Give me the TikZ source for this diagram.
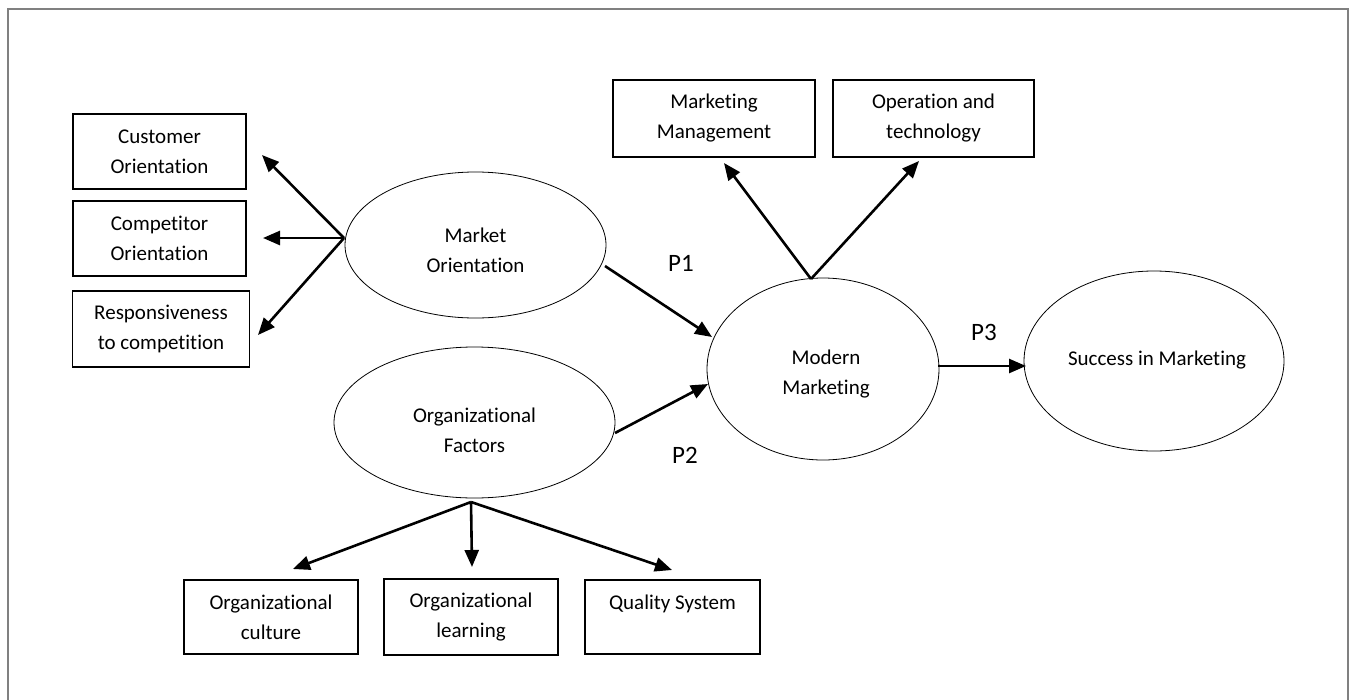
\documentclass[tikz,border=0pt]{standalone}
\usepackage{fontspec}
\setmainfont{Carlito}[Ligatures={NoCommon}]
\usetikzlibrary{arrows.meta,shapes.geometric}
\begin{document}
\begin{tikzpicture}[x=1pt,y=-1pt,
  txt/.style={font=\fontsize{21}{30}\selectfont, align=center, inner sep=0pt},
  plbl/.style={font=\fontsize{25}{30}\selectfont, inner sep=0pt},
  box/.style={draw, line width=1.2pt, rectangle, inner sep=0pt, align=center, font=\fontsize{21}{30}\selectfont},
  oval/.style={draw, line width=0.8pt, ellipse, inner sep=0pt},
  arr/.style={line width=2.6pt, -{Triangle[length=17pt,width=14pt]}},
  frame/.style={draw=black!50, line width=2pt}]
\useasboundingbox (0,0) rectangle (1355,699);
\path[frame] (8,720) -- (8,9) -- (1348,9) -- (1348,720);

% left boxes
\node[box, minimum width=173pt, minimum height=75pt] (cust) at (159.5,151.5) {Customer\\Orientation};
\node[box, minimum width=173pt, minimum height=75pt] (comp) at (159.5,238.5) {Competitor\\Orientation};
\node[box, minimum width=177pt, minimum height=76pt] (resp) at (161,329) {Responsiveness\\to competition};

% top boxes
\node[box, minimum width=202pt, minimum height=77pt] (mm) at (714,118.5) {Marketing\\Management};
\node[box, minimum width=201pt, minimum height=77pt] (ot) at (933.5,118.5) {Operation and\\technology};

% bottom boxes
\node[box, minimum width=174pt, minimum height=74pt] (oc) at (271,617) {Organizational\\culture};
\node[box, minimum width=174pt, minimum height=76pt] (ol) at (471,617) {Organizational\\learning};
\node[box, minimum width=175pt, minimum height=74pt] (qs) at (672.5,617) {Quality System\\\mbox{}};

% ellipses
\node[oval, minimum width=261pt, minimum height=146pt] (mo) at (475.5,245) {};
\node[txt] (moT) at (475.5,250) {Market\\Orientation};
\node[oval, minimum width=281pt, minimum height=151pt] (of) at (474.5,422.5) {};
\node[txt] (ofT) at (474.5,430) {Organizational\\Factors};
\node[oval, minimum width=232pt, minimum height=182pt] (mod) at (823,369) {};
\node[txt] (modT) at (826,374) {Modern\\Marketing};
\node[oval, minimum width=260pt, minimum height=180pt] (sm) at (1154,361) {};
\node[txt] (smT) at (1157,360) {Success in Marketing};

% P labels
\node[plbl] (p1) at (681,263) {P1};
\node[plbl] (p2) at (685,455) {P2};
\node[plbl] (p3) at (984,332) {P3};

% fan points and arrow tips
\coordinate (moFan) at (344,238);
\coordinate (tCust) at (262,155);
\coordinate (tComp) at (263,238);
\coordinate (tResp) at (258,335);
\coordinate (modFan) at (811,279);
\coordinate (tMM) at (724,163);
\coordinate (tOT) at (919,161);
\coordinate (ofFan) at (471,502);
\coordinate (tOC) at (293,569);
\coordinate (tOL) at (472,567);
\coordinate (tQS) at (672,570);
\coordinate (p1s) at (605,266);
\coordinate (p1e) at (712,337);
\coordinate (p2s) at (615,433);
\coordinate (p2e) at (708,384);
\coordinate (p3s) at (938,366);
\coordinate (p3e) at (1026,366);

\draw[arr] (moFan) -- (tCust);
\draw[arr] (moFan) -- (tComp);
\draw[arr] (moFan) -- (tResp);
\draw[arr] (modFan) -- (tMM);
\draw[arr] (modFan) -- (tOT);
\draw[arr] (ofFan) -- (tOC);
\draw[arr] (ofFan) -- (tOL);
\draw[arr] (ofFan) -- (tQS);
\draw[arr] (p1s) -- (p1e);
\draw[arr] (p2s) -- (p2e);
\draw[arr] (p3s) -- (p3e);
\end{tikzpicture}
\end{document}
